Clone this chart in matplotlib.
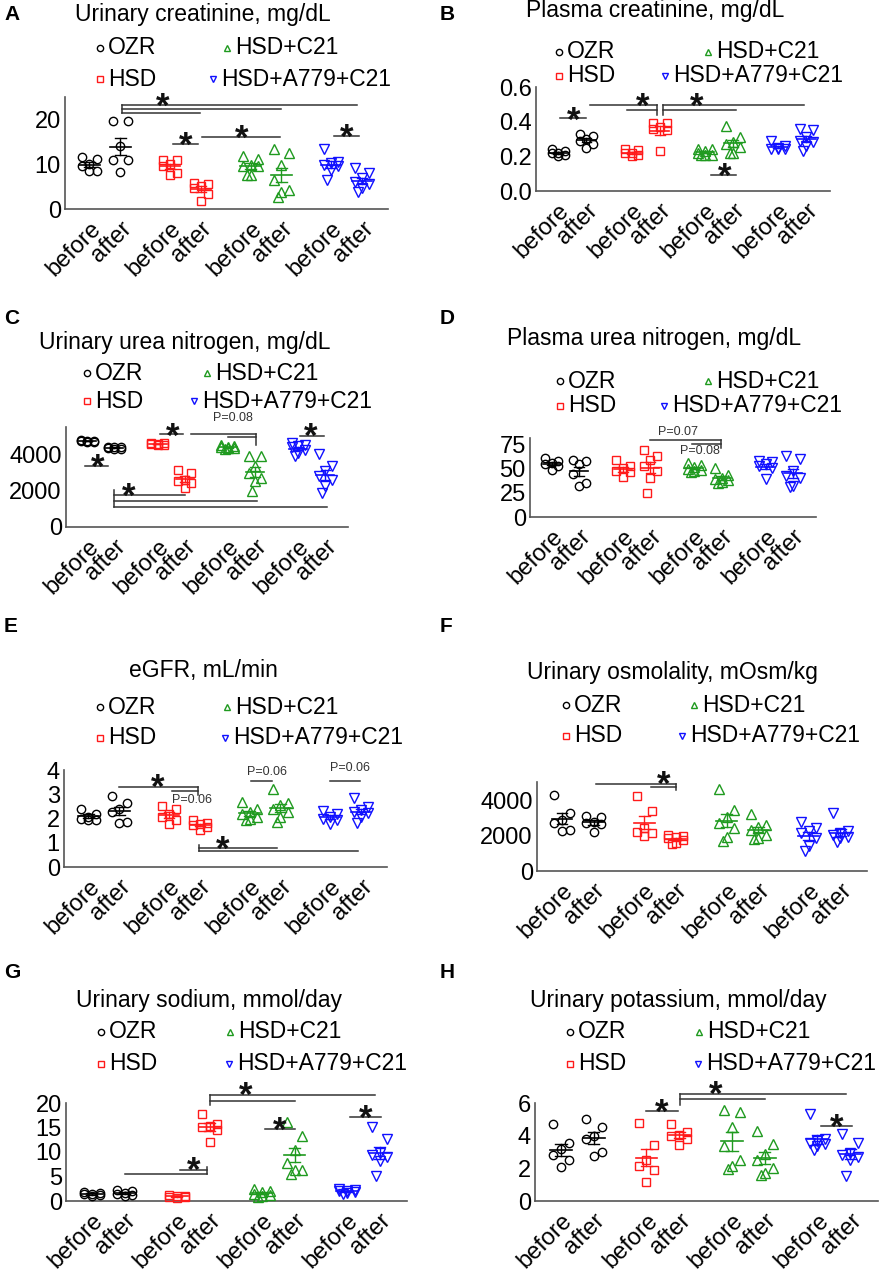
import numpy as np
import matplotlib
matplotlib.use("Agg")
import matplotlib.pyplot as plt
import matplotlib.transforms as mtransforms

plt.rcParams['font.family'] = ['Liberation Sans', 'DejaVu Sans']

W, H = 886, 1272
groups = ["OZR", "HSD", "HSD+C21", "HSD+A779+C21"]
colors = ["#000000", "#ff1a1a", "#1f9a1f", "#1010ff"]
markers = ["o", "s", "^", "v"]
xpos = [0, 1, 2.6, 3.6, 5.2, 6.2, 7.8, 8.8]
xlabels = ["before", "after"] * 4

# values per column: OZR before/after, HSD before/after, C21 before/after, A779 before/after
urine_creat = [
    [11.6, 11.2, 10.0, 9.6, 8.4, 8.4], [19.6, 19.6, 14.0, 11.0, 11.0, 8.2],
    [11.0, 11.0, 10.0, 9.6, 8.0, 7.6], [5.9, 5.6, 5.2, 4.6, 3.4, 1.8],
    [11.8, 11.2, 9.9, 9.7, 9.5, 7.5, 7.5], [13.3, 12.5, 9.9, 6.5, 4.3, 3.9, 2.6],
    [13.3, 10.6, 10.3, 9.9, 9.5, 8.8, 6.5], [9.1, 8.0, 7.0, 6.0, 5.5, 4.6, 3.9],
]
plasma_creat = [
    [0.24, 0.23, 0.22, 0.22, 0.21, 0.20], [0.33, 0.32, 0.30, 0.29, 0.27, 0.25],
    [0.245, 0.236, 0.22, 0.217, 0.207, 0.20], [0.39, 0.39, 0.37, 0.36, 0.35, 0.23],
    [0.24, 0.24, 0.23, 0.22, 0.21, 0.21, 0.21], [0.376, 0.31, 0.285, 0.27, 0.255, 0.22, 0.217],
    [0.29, 0.26, 0.25, 0.245, 0.24, 0.24], [0.36, 0.35, 0.31, 0.29, 0.285, 0.26, 0.23],
]
urine_urea = [
    [4800, 4780, 4760, 4750, 4720, 4700], [4450, 4420, 4400, 4350, 4330, 4300],
    [4650, 4620, 4600, 4580, 4560, 4540], [3170, 2990, 2620, 2525, 2430, 2160],
    [4550, 4500, 4450, 4400, 4380, 4350, 4300], [3910, 3910, 3350, 2990, 2710, 2525, 1970],
    [4640, 4550, 4460, 4400, 4280, 4090, 3900], [4050, 3350, 3080, 2800, 2620, 2250, 1880],
]
plasma_urea = [
    [61, 58, 56, 55, 53, 49], [59.5, 57.7, 55.3, 45, 35.3, 32.5],
    [58.8, 52.6, 50.8, 47.4, 46.3, 41.5], [69.9, 62.9, 58.8, 52.6, 47.4, 40.5, 24.9],
    [56, 54, 52, 50, 49, 48, 47], [50.8, 43.9, 40.5, 39.4, 38, 36, 35.3],
    [57.7, 56.7, 55.3, 53.3, 50.8, 39.4], [62.9, 60.2, 47.4, 42.2, 40.5, 31.8, 31.1],
]
egfr = [
    [2.43, 2.22, 2.08, 2.01, 1.97, 1.94], [2.94, 2.67, 2.39, 2.29, 1.88, 1.83],
    [2.54, 2.39, 2.22, 2.08, 1.97, 1.78], [1.94, 1.83, 1.78, 1.74, 1.67, 1.53],
    [2.71, 2.39, 2.29, 2.22, 2.08, 2.01, 1.94], [3.26, 2.67, 2.57, 2.43, 2.29, 2.08, 1.88],
    [2.33, 2.22, 2.08, 2.01, 1.97, 1.78], [2.85, 2.5, 2.36, 2.29, 2.25, 2.08, 1.81],
]
urine_osm = [
    [4345, 3290, 2910, 2720, 2335, 2300], [3140, 3100, 2810, 2720, 2680, 2240],
    [4250, 3390, 2430, 2240, 2180, 1990], [2050, 1990, 1950, 1860, 1760, 1610, 1530],
    [4670, 3480, 3100, 2760, 2430, 1950, 1720], [3250, 2620, 2490, 2335, 2050, 1860, 1800],
    [2780, 2430, 2300, 2140, 1860, 1420, 1150], [3290, 2300, 2140, 2050, 1950, 1860, 1665],
]
urine_na = [
    [1.8, 1.6, 1.5, 1.4, 1.2, 1.0], [2.3, 2.05, 1.65, 1.4, 1.2, 1.0],
    [1.2, 1.1, 1.0, 0.9, 0.8, 0.6], [17.8, 15.75, 15.3, 15.1, 14.4, 12.1],
    [2.5, 2.0, 1.8, 1.5, 1.3, 1.1, 0.9], [16.1, 13.2, 10.4, 7.8, 6.4, 6.3, 5.5],
    [2.5, 2.3, 2.1, 2.0, 1.8, 1.6, 1.5], [15.1, 12.6, 9.7, 9.4, 9.0, 8.2, 5.1],
]
urine_k = [
    [4.69, 3.58, 3.21, 2.79, 2.5, 2.08], [5.0, 4.52, 4.0, 3.79, 3.0, 2.75],
    [4.79, 3.42, 2.5, 2.13, 1.92, 1.19], [4.73, 4.21, 4.04, 3.96, 3.79, 3.42],
    [5.56, 5.42, 4.52, 3.38, 2.54, 2.17, 1.96], [4.31, 3.48, 2.85, 2.54, 2.02, 1.71, 1.6],
    [5.35, 3.79, 3.69, 3.58, 3.5, 3.38, 3.13], [4.1, 3.58, 2.96, 2.79, 2.71, 2.54, 1.54],
]

# significance marks: ("h", x0, x1, y), ("v", x, y0, y1), ("t", x, y, text)
sig_A = [("h", 1.06, 8.65, 23.2), ("h", 1.06, 6.2, 22.4), ("h", 1.06, 3.57, 21.5),
         ("v", 1.06, 21.5, 23.2), ("t", 2.35, 25.2, "*"),
         ("h", 2.7, 3.5, 14.5), ("t", 3.12, 16.6, "*"),
         ("h", 3.63, 6.14, 16.0), ("t", 4.9, 18.1, "*"),
         ("h", 7.9, 8.7, 16.3), ("t", 8.3, 18.4, "*")]
sig_B = [("h", 0.07, 0.99, 0.42), ("t", 0.53, 0.468, "*"),
         ("h", 1.13, 3.5, 0.494), ("h", 2.45, 3.5, 0.468), ("v", 3.5, 0.44, 0.494),
         ("h", 3.72, 8.7, 0.494), ("h", 3.72, 6.3, 0.468), ("v", 3.72, 0.44, 0.494),
         ("t", 2.98, 0.546, "*"), ("t", 4.9, 0.546, "*"),
         ("h", 5.43, 6.3, 0.095), ("t", 5.9, 0.145, "*")]
sig_C = [("h", -0.07, 0.78, 3390), ("t", 0.37, 3850, "*"),
         ("h", 2.7, 3.55, 5160), ("t", 3.15, 5565, "*"),
         ("h", 3.85, 6.22, 5160), ("h", 5.2, 6.22, 4975), ("v", 6.22, 4550, 5160),
         ("t", 5.4, 6030, "P=0.08"),
         ("h", 7.85, 8.74, 5050), ("t", 8.26, 5565, "*"),
         ("h", 1.0, 3.6, 1750), ("h", 1.0, 6.26, 1455), ("h", 1.0, 8.85, 1105),
         ("v", 1.0, 1105, 2065), ("t", 1.52, 2250, "*")]
sig_D = [("h", 3.6, 6.19, 80.2), ("h", 5.1, 6.19, 76.0), ("v", 6.19, 72, 80.2),
         ("t", 4.62, 87.8, "P=0.07"), ("t", 5.42, 68.1, "P=0.08")]
sig_E = [("h", 0.97, 3.55, 3.31), ("h", 2.7, 3.55, 3.17), ("v", 3.55, 2.99, 3.31),
         ("t", 2.25, 3.75, "*"), ("t", 3.35, 2.8, "P=0.06"),
         ("h", 3.58, 6.1, 0.79), ("h", 3.58, 8.7, 0.67), ("v", 3.58, 0.67, 0.9),
         ("t", 4.35, 1.18, "*"),
         ("h", 5.24, 5.92, 3.58), ("t", 5.76, 3.96, "P=0.06"),
         ("h", 7.81, 8.78, 3.58), ("t", 8.46, 4.13, "P=0.06")]
sig_F = [("h", 1.08, 3.6, 4976), ("h", 2.8, 3.6, 4785), ("v", 3.6, 4630, 4976),
         ("t", 3.2, 5550, "*")]
sig_G = [("h", 1.0, 3.53, 5.6), ("h", 2.7, 3.53, 6.3), ("v", 3.53, 5.6, 7.0),
         ("t", 3.13, 8.36, "*"),
         ("h", 3.6, 8.65, 21.7), ("h", 3.6, 6.2, 20.5), ("v", 3.6, 19.66, 21.7),
         ("t", 4.7, 23.6, "*"),
         ("h", 5.3, 6.2, 14.66), ("t", 5.74, 16.6, "*"),
         ("h", 7.9, 8.83, 17.05), ("t", 8.37, 19.0, "*")]
sig_H = [("h", 2.6, 3.57, 5.5), ("t", 3.05, 6.08, "*"),
         ("h", 3.63, 8.66, 6.56), ("h", 3.63, 6.2, 6.25), ("v", 3.63, 5.875, 6.56),
         ("t", 4.7, 7.19, "*"),
         ("h", 7.9, 8.84, 4.58), ("t", 8.38, 5.15, "*")]

# panel layout in pixels: letter xy, title xy, legend marker xy (4), axes (l, b, r, t)
panels = [
    dict(letter="A", lxy=(4, 15), title="Urinary creatinine, mg/dL", txy=(203, 15),
         leg=[(100, 48), (100, 79), (227, 48), (213, 79)], box=(65, 209, 388, 97),
         ylim=(0, 25), yticks=[0, 10, 20], ytl=None, data=urine_creat, sig=sig_A),
    dict(letter="B", lxy=(440, 15), title="Plasma creatinine, mg/dL", txy=(655, 11),
         leg=[(559, 52), (559, 76), (708, 52), (665, 76)], box=(536, 191, 830, 87),
         ylim=(0, 0.6), yticks=[0, 0.2, 0.4, 0.6], ytl=["0.0", "0.2", "0.4", "0.6"],
         data=plasma_creat, sig=sig_B),
    dict(letter="C", lxy=(4, 318), title="Urinary urea nitrogen, mg/dL", txy=(185, 343),
         leg=[(87, 373), (87, 401), (207, 373), (194, 401)], box=(66, 527, 348, 427),
         ylim=(0, 5530), yticks=[0, 2000, 4000], ytl=None, data=urine_urea, sig=sig_C),
    dict(letter="D", lxy=(440, 318), title="Plasma urea nitrogen, mg/dL", txy=(654, 339),
         leg=[(560, 381), (560, 406), (708, 381), (664, 406)], box=(530, 517, 816, 438),
         ylim=(0, 82), yticks=[0, 25, 50, 75], ytl=None, data=plasma_urea, sig=sig_D),
    dict(letter="E", lxy=(4, 627), title="eGFR, mL/min", txy=(203, 670),
         leg=[(100, 707), (100, 738), (227, 707), (225, 738)], box=(64, 867, 387, 770),
         ylim=(0, 4.03), yticks=[0, 1, 2, 3, 4], ytl=None, data=egfr, sig=sig_E),
    dict(letter="F", lxy=(440, 627), title="Urinary osmolality, mOsm/kg", txy=(672, 673),
         leg=[(566, 705), (566, 736), (694, 705), (682, 736)], box=(537, 871, 867, 782),
         ylim=(0, 5070), yticks=[0, 2000, 4000], ytl=None, data=urine_osm, sig=sig_F),
    dict(letter="G", lxy=(4, 973), title="Urinary sodium, mmol/day", txy=(209, 1001),
         leg=[(101, 1032), (101, 1064), (230, 1032), (229, 1064)], box=(66, 1201, 407, 1103),
         ylim=(0, 20), yticks=[0, 5, 10, 15, 20], ytl=None, data=urine_na, sig=sig_G),
    dict(letter="H", lxy=(440, 973), title="Urinary potassium, mmol/day", txy=(678, 1001),
         leg=[(570, 1032), (570, 1064), (699, 1032), (698, 1064)], box=(535, 1201, 878, 1103),
         ylim=(0, 6), yticks=[0, 2, 4, 6], ytl=None, data=urine_k, sig=sig_H),
]

jit = [-0.24, 0.24, 0.0, -0.24, 0.24, 0.0, -0.12]
STAR = 25

fig = plt.figure(figsize=(W / 100, H / 100), dpi=100)
over = fig.add_axes([0, 0, 1, 1])
over.set_xlim(0, W); over.set_ylim(H, 0); over.axis("off")

for p in panels:
    l, b, r, t = p["box"]
    ax = fig.add_axes([l / W, 1 - b / H, (r - l) / W, (b - t) / H])
    ax.set_xlim(-0.79, 9.64)
    ax.set_ylim(*p["ylim"])
    for s in ("top", "right"):
        ax.spines[s].set_visible(False)
    for s in ("left", "bottom"):
        ax.spines[s].set_color("#555555")
        ax.spines[s].set_linewidth(1.2)
    ax.set_yticks(p["yticks"])
    if p["ytl"]:
        ax.set_yticklabels(p["ytl"])
    ax.set_xticks(xpos)
    ax.set_xticklabels(xlabels, rotation=45, ha="right", va="top", rotation_mode="anchor")
    ax.tick_params(axis="both", length=0, labelsize=17, pad=3)
    ax.tick_params(axis="x", pad=6)

    for i, vals in enumerate(p["data"]):
        g = i // 2
        v = np.array(vals, dtype=float)
        order = np.argsort(-v)
        xs = np.empty(len(v))
        for k, idx in enumerate(order):
            xs[idx] = xpos[i] + jit[k % len(jit)]
        ax.plot(xs, v, linestyle="none", marker=markers[g], ms=6.8 if g >= 2 else 6.0,
                mfc="none", mec=colors[g], mew=1.0, clip_on=False, zorder=3)
        m = v.mean()
        sem = v.std(ddof=1) / np.sqrt(len(v))
        ax.plot([xpos[i] - 0.33, xpos[i] + 0.33], [m, m], color=colors[g], lw=1.2, zorder=4)
        ax.plot([xpos[i], xpos[i]], [m - sem, m + sem], color=colors[g], lw=1.0, zorder=4)
        for yy in (m - sem, m + sem):
            ax.plot([xpos[i] - 0.17, xpos[i] + 0.17], [yy, yy], color=colors[g], lw=1.0, zorder=4)

    star_tr = mtransforms.offset_copy(ax.transData, fig=fig, x=0, y=-0.6 * STAR, units="points")
    for item in p["sig"]:
        if item[0] == "h":
            ax.plot([item[1], item[2]], [item[3], item[3]], color="#333333", lw=1.1, clip_on=False)
        elif item[0] == "v":
            ax.plot([item[1], item[1]], [item[2], item[3]], color="#333333", lw=1.1, clip_on=False)
        elif item[3] == "*":
            ax.text(item[1], item[2], "*", transform=star_tr, ha="center", va="baseline",
                    fontsize=STAR, fontweight="bold", color="#111111", clip_on=False)
        else:
            ax.text(item[1], item[2], item[3], ha="center", va="center",
                    fontsize=9, color="#333333", clip_on=False)

    over.text(p["lxy"][0], p["lxy"][1], p["letter"], fontsize=15, fontweight="bold",
              ha="left", va="center")
    over.text(p["txy"][0], p["txy"][1], p["title"], fontsize=16.5, ha="center", va="center")
    for g, (mx, my) in enumerate(p["leg"]):
        over.plot([mx], [my], marker=markers[g], ms=4.5, mfc="none", mec=colors[g], mew=1.0,
                  linestyle="none")
        over.text(mx + 8, my, groups[g], fontsize=16.5, ha="left", va="center")

fig.savefig("out.png", dpi=100)
